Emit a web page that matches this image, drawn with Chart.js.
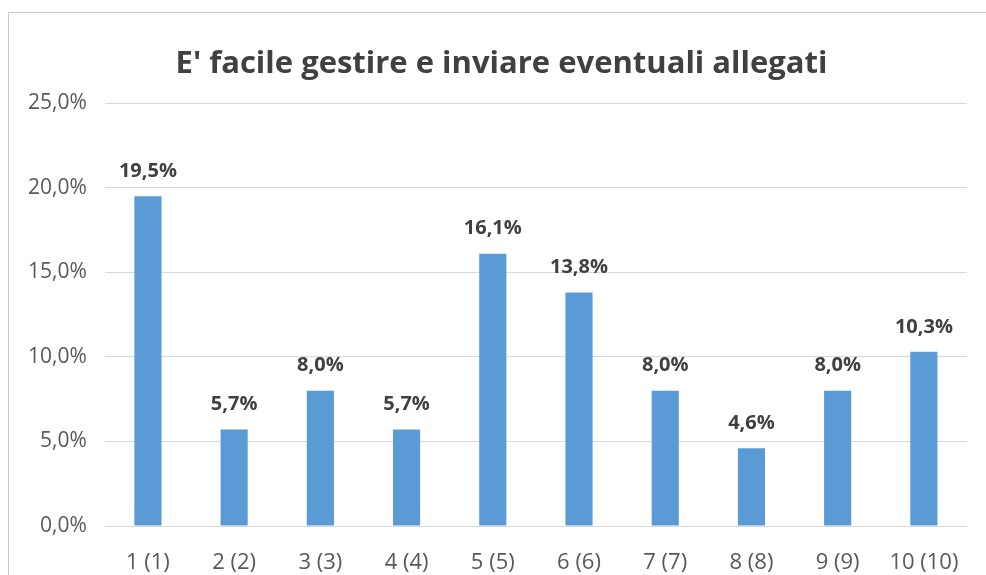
<!DOCTYPE html>
<html>
<head>
<meta charset="utf-8">
<script src="https://cdn.jsdelivr.net/npm/chart.js@4"></script>
<style>
    html, body { margin: 0; padding: 0; background: #fff; overflow: hidden; }
    #frame {
        position: absolute; left: 8px; top: 12px; width: 978px; height: 563px;
        border-left: 1px solid #c8c8c8; border-top: 1px solid #c8c8c8;
    }
    #chart { display: block; }
</style>
</head>
<body>
<div id="frame"><canvas id="chart" width="977" height="562"></canvas></div>
<script>
// dati
const categories = ['1 (1)', '2 (2)', '3 (3)', '4 (4)', '5 (5)', '6 (6)', '7 (7)', '8 (8)', '9 (9)', '10 (10)'];
const percentuali = [19.5, 5.7, 8.0, 5.7, 16.1, 13.8, 8.0, 4.6, 8.0, 10.3];
const yTicks = [0, 5, 10, 15, 20, 25];
const titolo = "E' facile gestire e inviare eventuali allegati";

function fmt(v) {
    return v.toFixed(1).replace('.', ',') + '%';
}

// etichette sopra le barre
const valueLabels = {
    id: 'valueLabels',
    afterDatasetsDraw: function (chart) {
        const ctx = chart.ctx;
        const meta = chart.getDatasetMeta(0);
        ctx.save();
        ctx.font = 'bold 20px "Open Sans"';
        ctx.fillStyle = '#404040';
        ctx.textAlign = 'center';
        ctx.textBaseline = 'bottom';
        meta.data.forEach(function (bar, i) {
            ctx.fillText(fmt(percentuali[i]), bar.x, bar.y - 15);
        });
        ctx.restore();
    }
};

// il titolo nell'originale e' centrato un po' piu' a destra
const titleShift = {
    id: 'titleShift',
    afterLayout: function (chart) {
        if (chart.titleBlock) {
            chart.titleBlock.left = 27;
        }
    }
};

new Chart(document.getElementById('chart'), {
    type: 'bar',
    data: {
        labels: categories,
        datasets: [{
            data: percentuali,
            backgroundColor: '#5b9bd5',
            categoryPercentage: 1,
            barPercentage: 0.315,
        }],
    },
    options: {
        responsive: false,
        animation: false,
        layout: { padding: { left: 1, right: 19, top: 0, bottom: 0 } },
        plugins: {
            legend: { display: false },
            tooltip: { enabled: false },
            title: {
                display: true,
                text: titolo,
                color: '#404040',
                font: { family: '"Open Sans"', size: 31, weight: 'bold' },
                padding: { top: 33, bottom: 20 },
            },
        },
        scales: {
            x: {
                grid: { display: false },
                border: { display: false },
                ticks: { color: '#595959', font: { family: '"Open Sans"', size: 22 }, padding: 16 },
                afterFit: function (scale) {
                    scale.height = 49;
                },
            },
            y: {
                min: 0,
                max: 25,
                afterBuildTicks: function (axis) {
                    axis.ticks = yTicks.map(function (v) { return { value: v }; });
                },
                grid: { color: '#d9d9d9', drawTicks: false },
                border: { display: false },
                ticks: {
                    color: '#595959',
                    font: { family: '"Open Sans"', size: 21 },
                    padding: 18,
                    callback: function (v) { return fmt(v); },
                },
            },
        },
    },
    plugins: [valueLabels, titleShift],
});
</script>
</body>
</html>
